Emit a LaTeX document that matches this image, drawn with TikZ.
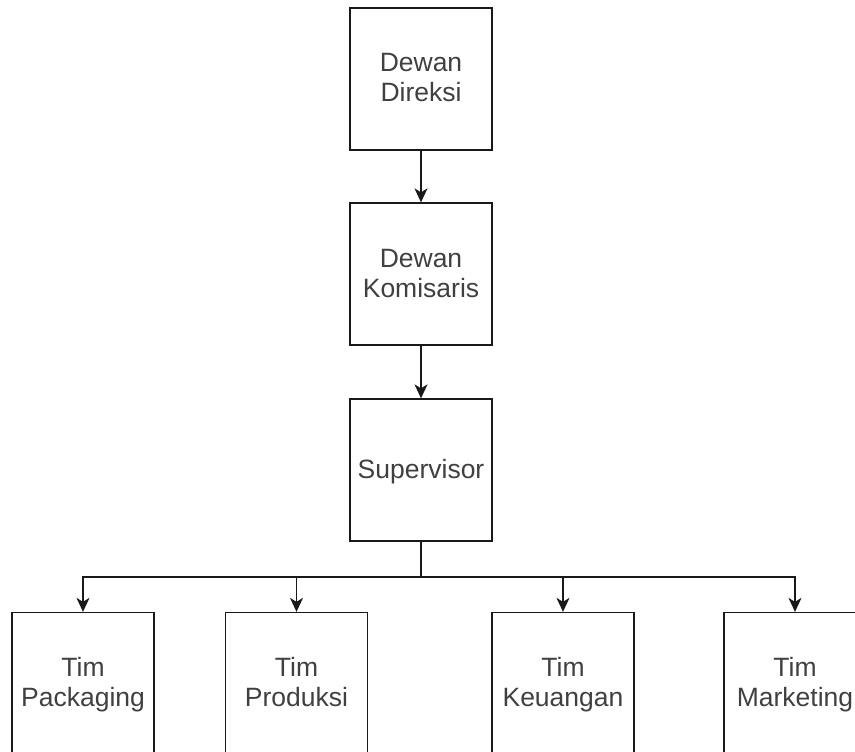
\documentclass[tikz,border=0pt]{standalone}
\usepackage{fontspec}
\setmainfont{Liberation Sans}
\usetikzlibrary{arrows.meta}
\newcommand\twolines[2]{\rule{0pt}{24pt}#1\\#2\rule[-8pt]{0pt}{8pt}}
\newcommand\oneline[1]{\rule{0pt}{24pt}#1\rule[-8pt]{0pt}{8pt}}
\begin{document}
\begin{tikzpicture}[x=1pt,y=-1pt,
  box/.style={draw=black!90, line width=1.3pt, minimum width=142pt, minimum height=142pt, inner sep=0pt, align=center, text=black!75, font=\fontsize{26.5}{30}\selectfont},
  conn/.style={draw=black!90, line width=1.3pt, -{Stealth[length=14pt,width=13pt,inset=4pt]}}]
\useasboundingbox (0,0) rectangle (855,752);
\clip (0,0) rectangle (855,752);
\node[box] (dir) at (421,79) {\twolines{Dewan}{Direksi}};
\node[box] (kom) at (421,274) {\twolines{Dewan}{Komisaris}};
\node[box] (sup) at (421,470) {\oneline{Supervisor}};
\node[box] (pack) at (83,683.5) {\twolines{Tim}{Packaging}};
\node[box] (prod) at (296.5,683.5) {\twolines{Tim}{Produksi}};
\node[box] (keu) at (563,683.5) {\twolines{Tim}{Keuangan}};
\node[box] (mark) at (795,683.5) {\twolines{Tim}{Marketing}};
\coordinate (bus) at (421,577);
\draw[conn] (dir) -- (kom);
\draw[conn] (kom) -- (sup);
\draw[conn] (sup.south) -- (bus) -| (pack.north);
\draw[conn] (bus) -| (prod.north);
\draw[conn] (bus) -| (keu.north);
\draw[conn] (bus) -| (mark.north);
\end{tikzpicture}
\end{document}
